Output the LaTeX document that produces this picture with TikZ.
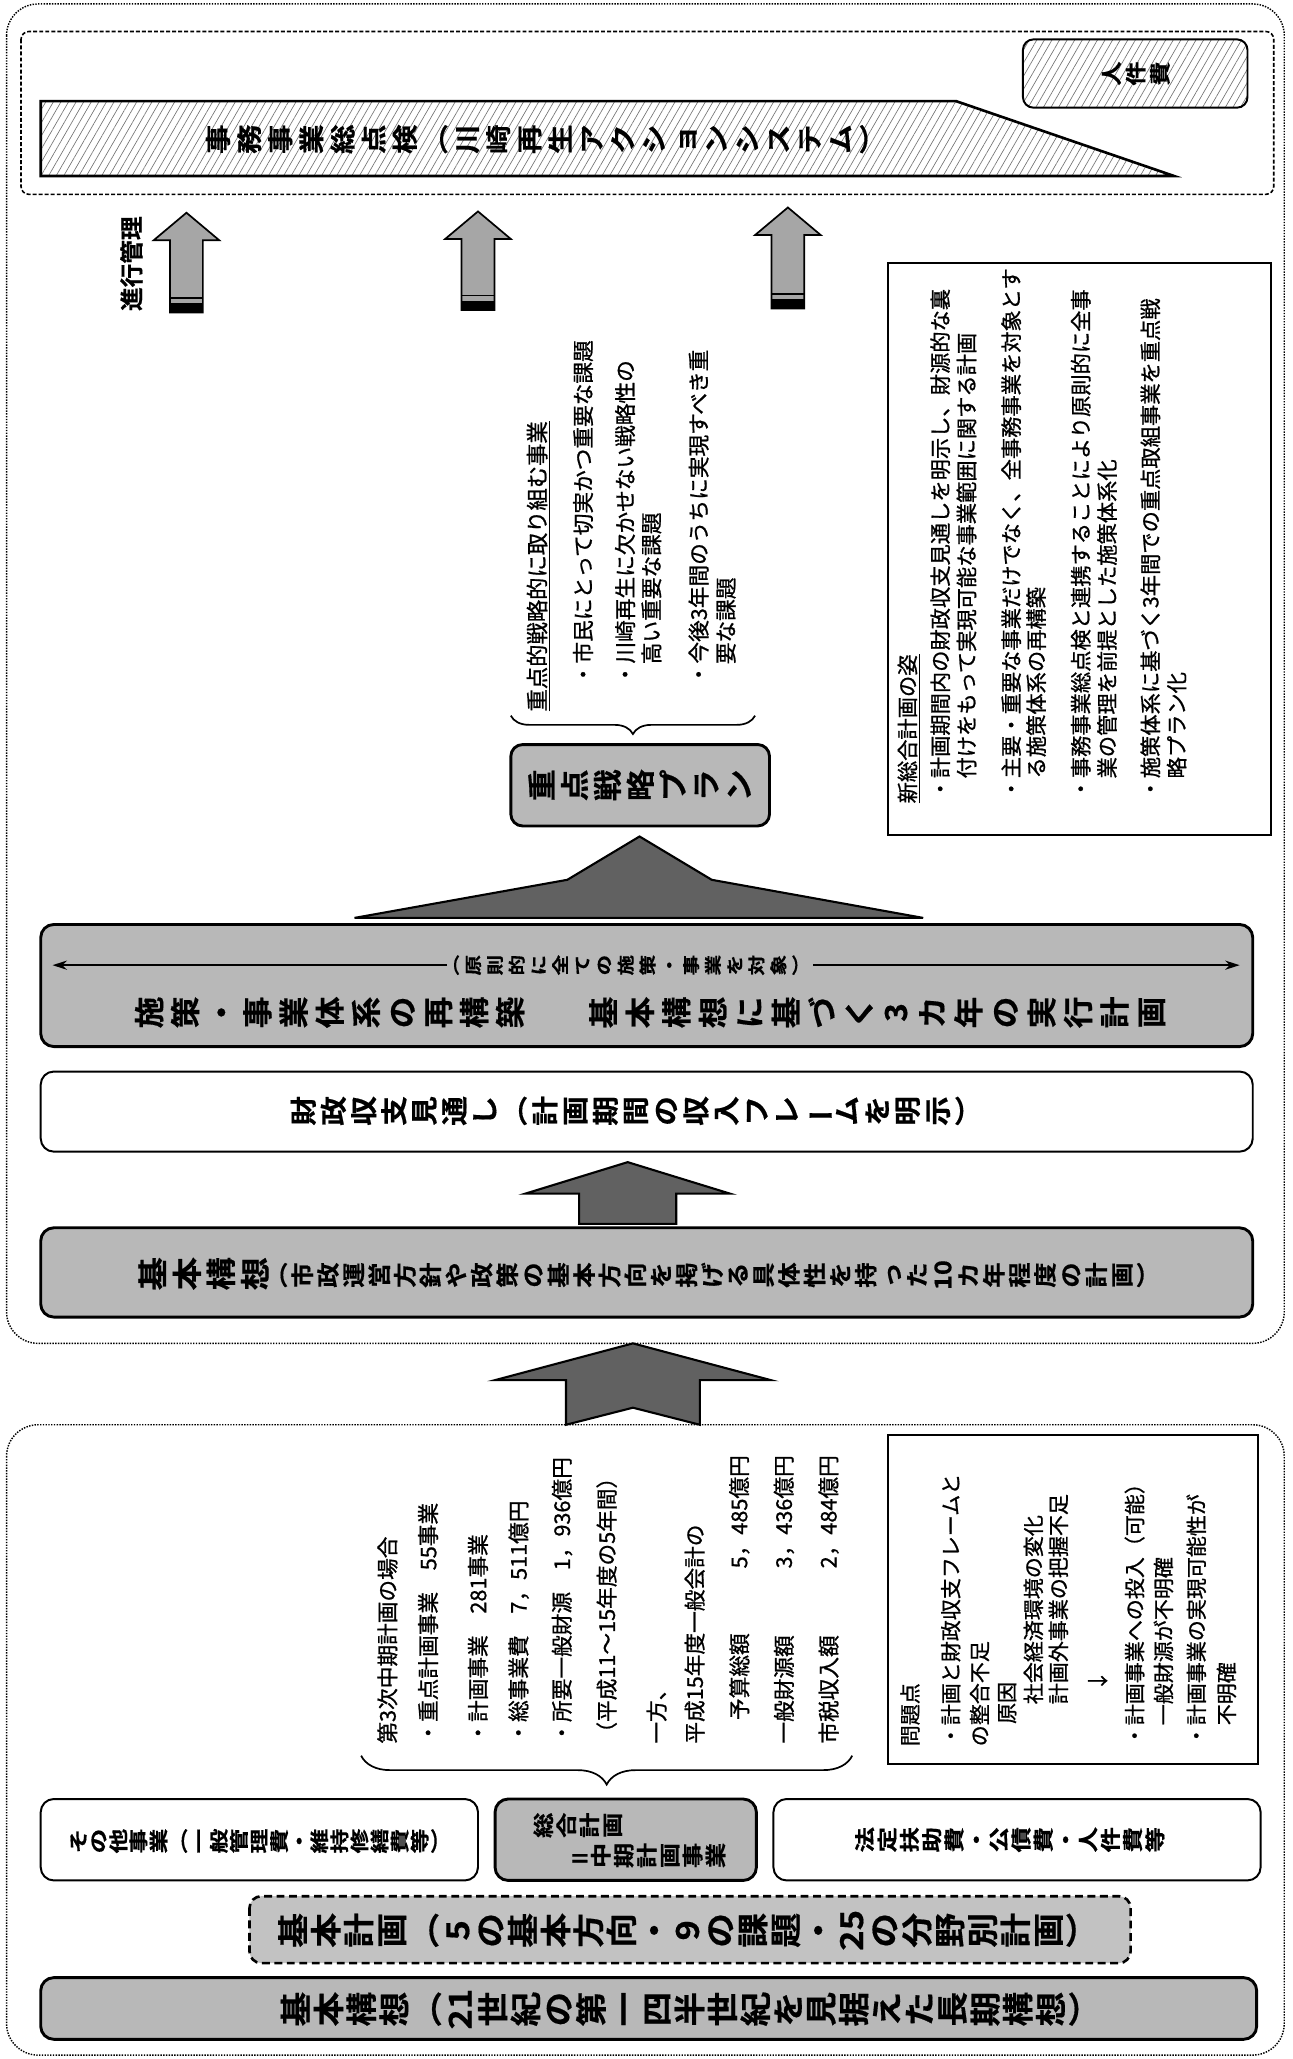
\documentclass[tikz,border=0pt]{standalone}
\usepackage{fontspec}
\usepackage{graphicx}
\setmainfont{Noto Sans CJK JP}[BoldFont={Noto Sans CJK JP Bold}, BoldFeatures={FakeBold=0.5}]
\newfontfamily\listfont{Noto Sans CJK JP}[FakeBold=0.9]
\usetikzlibrary{patterns.meta,arrows.meta,decorations.pathreplacing}

\def\TateEnd{TateEndMarker}
\def\tatestretch{1}
\newdimen\tatepitch
\newcommand\tate[2]{\vbox{\tatepitch=#1pt\relax\baselineskip=\tatepitch\lineskiplimit=-1000pt\lineskip=0pt\relax\TateLoop#2\TateEnd}}
\def\TateLoop#1{\ifx\TateEnd#1\else\hbox to 2em{\hss\scalebox{\tatestretch}[1]{#1}\hss}\expandafter\TateLoop\fi}
% #1 stretch, #2 font size, #3 pitch, #4 text
\newcommand\T[4][1]{\def\tatestretch{#1}\fontsize{#2}{#2}\selectfont\bfseries\tate{#3}{#4}}
\newcommand\VEQ{\rotatebox[origin=c]{90}{＝}}
\newcommand\VBAR{\rotatebox[origin=c]{90}{ー}}

\tikzset{
  frame/.style={densely dotted, line width=1.1pt, rounded corners=24pt},
  graybox/.style={draw, line width=2.2pt, fill=black!28, rounded corners=10pt},
  whitebox/.style={draw, line width=1.5pt, fill=white, rounded corners=10pt},
  hatch/.style={pattern={Lines[angle=60,distance=5pt,line width=0.5pt]}, pattern color=black!55},
  tt/.style={inner sep=0pt, rotate=90},
  rt/.style={inner sep=0pt, rotate=90, anchor=west},
  darkarrow/.style={draw, line width=1.6pt, fill=black!62, line join=miter},
  lightarrow/.style={draw, line width=1.3pt, fill=black!35},
}
\newcommand\RT[5]{\node[rt, font=\listfont\fontsize{#4}{#4}\selectfont] (#1) at (#2,#3) {#5};}
\newcommand\progarrow[3]{%
  \draw[lightarrow] (#1-25,#2+21) -- (#1,#2) -- (#1+25,#2+21) -- (#1+12.5,#2+21) -- (#1+12.5,#3) -- (#1-12.5,#3) -- (#1-12.5,#2+21) -- cycle;
  \fill[black] (#1-12.5,#3-7) rectangle (#1+12.5,#3);
  \draw[line width=1.4pt] (#1-12.5,#3-11) -- (#1+12.5,#3-11);
}

\begin{document}
\begin{tikzpicture}[x=1pt,y=-1pt]
\useasboundingbox (0,0) rectangle (984,1568);

% ---------- frames ----------
\draw[frame] (5,3) rectangle (978,1023);
\draw[frame] (5,1085) rectangle (978,1565);
\draw[line width=1.2pt, dash pattern=on 3pt off 1.6pt, rounded corners=6pt] (16,24) rectangle (970,148);

% ---------- top banner ----------
\draw[line width=2pt, hatch] (31,77) -- (728,77) -- (894,134) -- (31,134) -- cycle;
\node[tt] (banner) at (414,106) {\T[1.15]{19.5}{23.7}{事務事業総点検︵川崎再生アクションシステム︶}};
\draw[line width=1.5pt, rounded corners=8pt, hatch] (779,30) rectangle (950,82);
\node[tt] (jinken) at (865,56) {\T[1.15]{16}{18.5}{人件費}};

% ---------- progress arrows ----------
\progarrow{142}{162}{238}
\progarrow{364}{161}{236}
\progarrow{600}{158}{235}
\node[rt, font=\fontsize{18}{18}\selectfont\bfseries] (shinko) at (100,237) {進行管理};

% ---------- middle text block ----------
\RT{m1}{410}{542}{17}{\underline{重点的戦略的に取り組む事業}}
\RT{m2}{444}{522}{16.5}{・市民にとって切実かつ重要な課題}
\RT{m3}{476}{522}{16.5}{・川崎再生に欠かせない戦略性の}
\RT{m4}{496}{506}{16.5}{高い重要な課題}
\RT{m5}{532}{522}{16.5}{・今後3年間のうちに実現すべき重}
\RT{m6}{553}{506}{16.5}{要な課題}
\coordinate (b1r) at (575,545);
\coordinate (b1l) at (389,545);
\draw[line width=1.3pt, decorate, decoration={brace, amplitude=14pt}] (b1r) -- (b1l);

\draw[line width=2.2pt, fill=black!28, rounded corners=9pt] (389,567) rectangle (586,629);
\node[tt] (plan) at (487,598) {\T[1.1]{22}{25}{重点戦略プラン}};

% ---------- right box ----------
\draw[line width=1.4pt] (676,200) rectangle (968,636);
\RT{t1}{692}{612}{16.2}{\underline{新総合計画の姿}}
\RT{t2}{716}{609}{16.2}{・計画期間内の財政収支見通しを明示し、財源的な裏}
\RT{t3}{736}{593}{16.2}{付けをもって実現可能な事業範囲に関する計画}
\RT{t4}{770}{609}{16.2}{・主要・重要な事業だけでなく、全事務事業を対象とす}
\RT{t5}{789}{593}{16.2}{る施策体系の再構築}
\RT{t6}{823}{609}{16.2}{・事務事業総点検と連携することにより原則的に全事}
\RT{t7}{843}{593}{16.2}{業の管理を前提とした施策体系化}
\RT{t8}{876}{609}{16.2}{・施策体系に基づく3年間での重点取組事業を重点戦}
\RT{t9}{896}{593}{16.2}{略プラン化}

% ---------- tree arrow ----------
\draw[darkarrow] (270,699) -- (432,670) -- (487,637) -- (542,670) -- (703,699) -- cycle;

% ---------- bars of the new plan ----------
\draw[graybox] (31,704) rectangle (954,797);
\node[tt, inner sep=5pt] (gensoku) at (480,735) {\T[1.2]{13}{16.6}{︵原則的に全ての施策・事業を対象︶}};
\coordinate (dl) at (40,735);
\coordinate (dr) at (944,735);
\draw[line width=1.3pt, -{Stealth[length=11pt,width=7pt]}] (gensoku.north) -- (dl);
\draw[line width=1.3pt, -{Stealth[length=11pt,width=7pt]}] (gensoku.south) -- (dr);
\node[tt] (saikochiku) at (251,771) {\T[1.05]{23}{27.5}{施策・事業体系の再構築}};
\node[tt] (jikko) at (668,771) {\T[1.05]{23}{27.8}{基本構想に基づく3カ年の実行計画}};

\draw[whitebox] (31,816) rectangle (954,877);
\node[tt] (zaisei) at (483,846) {\T[1.1]{20.5}{23}{財政収支見通し︵計画期間の収入フレ{\VBAR}ムを明示︶}};

\draw[darkarrow] (400,909) -- (478,885) -- (556,909) -- (515,909) -- (515,932) -- (441,932) -- (441,909) -- cycle;

\draw[graybox] (31,935) rectangle (954,1003);
\node[tt] (kihonA) at (155,970) {\T[1.1]{23}{26}{基本構想}};
\node[tt] (kihonB) at (547,971) {\T[1.1]{17.5}{19.5}{︵市政運営方針や政策の基本方向を掲げる具体性を持った{10}カ年程度の計画︶}};

% ---------- arrow between the frames ----------
\draw[darkarrow] (377,1051) -- (482,1023) -- (587,1051) -- (533,1051) -- (533,1085) -- (482,1072) -- (431,1085) -- (431,1051) -- cycle;

% ---------- lower text block ----------
\RT{l1}{295}{1328}{16.5}{第3次中期計画の場合}
\RT{l2}{326}{1328}{16.5}{・重点計画事業　55事業}
\RT{l3}{364}{1328}{16.5}{・計画事業　281事業}
\RT{l4}{395}{1328}{16.5}{・総事業費　7，511億円}
\RT{l5}{428}{1328}{16.5}{・所要一般財源　1，936億円}
\RT{l6}{462}{1328}{16.5}{（平成11～15年度の5年間）}
\RT{l7}{500}{1328}{16.5}{一方、}
\RT{l8}{529}{1328}{16.5}{平成15年度一般会計の}
\RT{l9}{563}{1310}{16.5}{予算総額}
\RT{l10}{597}{1328}{16.5}{一般財源額}
\RT{l11}{631}{1328}{16.5}{市税収入額}
\node[rt, anchor=east, font=\listfont\fontsize{16.5}{16.5}\selectfont] (a9) at (563,1108) {5，485億円};
\node[rt, anchor=east, font=\listfont\fontsize{16.5}{16.5}\selectfont] (a10) at (597,1108) {3，436億円};
\node[rt, anchor=east, font=\listfont\fontsize{16.5}{16.5}\selectfont] (a11) at (631,1108) {2，484億円};
\coordinate (b2r) at (649,1337);
\coordinate (b2l) at (275,1337);
\draw[line width=1.3pt, decorate, decoration={brace, amplitude=22pt}] (b2r) -- (b2l);

% ---------- problems box ----------
\draw[line width=1.6pt] (676,1093) rectangle (958,1343);
\RT{p1}{693}{1330}{16}{問題点}
\RT{p2}{724}{1330}{16}{・計画と財政収支フレームと}
\RT{p3}{746}{1330}{16}{の整合不足}
\RT{p4}{767}{1313}{16}{原因}
\RT{p5}{787}{1298}{16}{社会経済環境の変化}
\RT{p6}{806}{1298}{16}{計画外事業の把握不足}
\node[tt, font=\listfont\fontsize{16}{16}\selectfont] (p7) at (836,1280) {↓};
\RT{p8}{864}{1330}{16}{・計画事業への投入（可能）}
\RT{p9}{886}{1314}{16}{一般財源が不明確}
\RT{p10}{911}{1330}{16}{・計画事業の実現可能性が}
\RT{p11}{934}{1314}{16}{不明確}

% ---------- lower boxes ----------
\draw[whitebox] (31,1370) rectangle (364,1432);
\node[tt] (sonota) at (197,1402) {\T[1.3]{14.5}{15.3}{その他事業︵一般管理費・維持修繕費等︶}};
\draw[graybox] (377,1370) rectangle (576,1432);
\node[tt] (sogo1) at (440,1390) {\T[1.2]{16}{17.5}{総合計画}};
\node[tt] (sogo2) at (493,1413) {\T[1.2]{16}{17.5}{{\VEQ}中期計画事業}};
\draw[whitebox] (589,1370) rectangle (960,1432);
\node[tt] (hotei) at (769,1401) {\T[1.25]{15.5}{17}{法定扶助費・公債費・人件費等}};

\draw[line width=2pt, dash pattern=on 6pt off 3.5pt, fill=black!24, rounded corners=9pt] (190,1444) rectangle (861,1495);
\node[tt] (kihonkeikaku) at (522,1470) {\T[1.1]{24}{25}{基本計画︵5の基本方向・9の課題・{25}の分野別計画︶}};
\draw[graybox] (31,1506) rectangle (957,1553);
\node[tt] (kihonkoso) at (524,1530) {\T[1.1]{24}{25}{基本構想︵{21}世紀の第一四半世紀を見据えた長期構想︶}};
\end{tikzpicture}
\end{document}
